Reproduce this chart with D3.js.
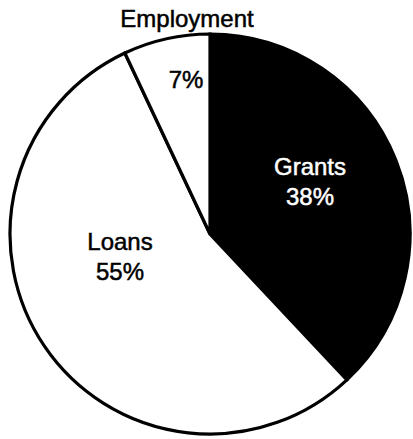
<!DOCTYPE html>
<html><head><meta charset="utf-8">
<script src="https://cdn.jsdelivr.net/npm/d3@7"></script>
<style>body{margin:0;background:#fff}svg{display:block}</style>
</head><body>
<svg id="c" width="413" height="439"></svg>
<script>
const categories = ["Grants", "Loans", "Employment"];
const values = [38, 55, 7];
const valueLabels = ["38%", "55%", "7%"];

const svg = d3.select("#c");
const cx = 210, cy = 234, R = 200;
const g = svg.append("g").attr("transform", `translate(${cx},${cy})`);
const data = categories.map((c, i) => ({name: c, value: values[i], label: valueLabels[i]}));
const pie = d3.pie().value(d => d.value).sort(null).startAngle(0).endAngle(2 * Math.PI);
const arcs = pie(data);
const arc = d3.arc().innerRadius(0).outerRadius(R);
const fills = {Grants: "#000", Loans: "#fff", Employment: "#fff"};

g.selectAll("path.slice").data(arcs).enter().append("path")
  .attr("class", "slice")
  .attr("d", arc)
  .attr("fill", d => fills[d.data.name])
  .attr("stroke", "#000").attr("stroke-width", 3.2).attr("stroke-linejoin", "miter");

const font = "'Liberation Sans', Arial, Helvetica, sans-serif";
const lab = g.append("g").attr("font-family", font).attr("font-size", 24).attr("text-anchor", "middle");

const place = {
  Grants: {x: 100, y: -59, color: "#fff"},
  Loans: {x: -90, y: 16, color: "#000"},
};
arcs.forEach(a => {
  const p = place[a.data.name];
  if (p) {
    lab.append("text").attr("x", p.x).attr("y", p.y).attr("fill", p.color)
      .attr("stroke", p.color).attr("stroke-width", 0.5).text(a.data.name);
    lab.append("text").attr("x", p.x).attr("y", p.y + 30).attr("fill", p.color)
      .attr("stroke", p.color).attr("stroke-width", 0.5).text(a.data.label);
  } else {
    lab.append("text").attr("x", -24).attr("y", -146).attr("fill", "#000")
      .attr("stroke", "#000").attr("stroke-width", 0.5).text(a.data.label);
    lab.append("text").attr("x", -23).attr("y", -207).attr("fill", "#000")
      .attr("stroke", "#000").attr("stroke-width", 0.5).text(a.data.name);
  }
});
</script>
</body></html>
